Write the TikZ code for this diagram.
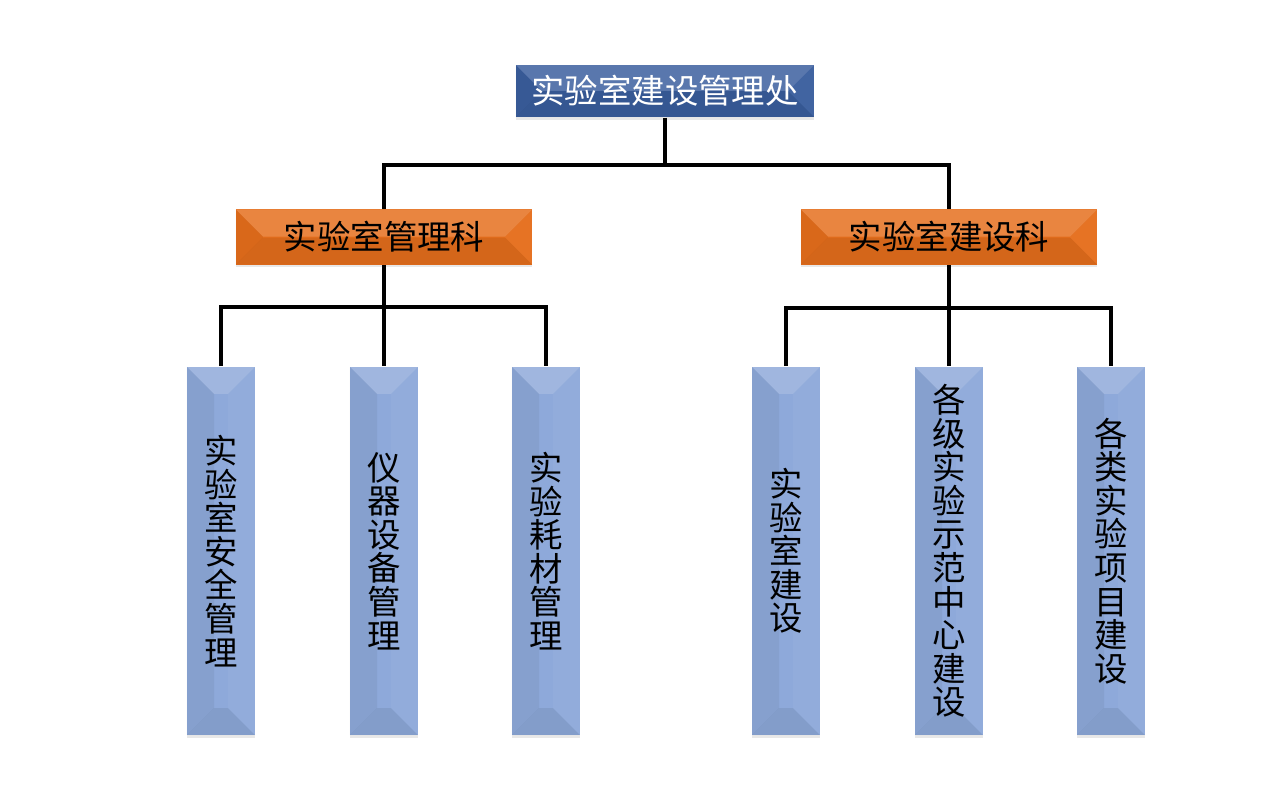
\documentclass[tikz,border=0pt]{standalone}
\usepackage{fontspec}
\newfontfamily\cjk{Noto Sans CJK SC}
\usetikzlibrary{shadows}

\definecolor{headblue}{HTML}{3A5E9E}
\definecolor{deptorange}{HTML}{E56E1C}
\definecolor{barblue}{HTML}{8EA9DA}

\tikzset{
  bevel/.style={path picture={
    % top face (light)
    \fill[white,opacity=.16] (path picture bounding box.north west) -- (path picture bounding box.north east)
      -- ([shift={(-#1,-#1)}]path picture bounding box.north east) -- ([shift={(#1,-#1)}]path picture bounding box.north west) -- cycle;
    % bottom face (dark)
    \fill[black,opacity=.07] (path picture bounding box.south west) -- (path picture bounding box.south east)
      -- ([shift={(-#1,#1)}]path picture bounding box.south east) -- ([shift={(#1,#1)}]path picture bounding box.south west) -- cycle;
    % side faces
    \fill[black,opacity=.05] (path picture bounding box.north west) -- (path picture bounding box.south west)
      -- ([shift={(#1,#1)}]path picture bounding box.south west) -- ([shift={(#1,-#1)}]path picture bounding box.north west) -- cycle;
    \fill[white,opacity=.04] (path picture bounding box.north east) -- (path picture bounding box.south east)
      -- ([shift={(-#1,#1)}]path picture bounding box.south east) -- ([shift={(-#1,-#1)}]path picture bounding box.north east) -- cycle;
  }},
  softshadow/.style={drop shadow={shadow xshift=0pt, shadow yshift=-0.8pt, opacity=.18}},
  headbox/.style={fill=headblue, text=white, minimum width=2.98cm, minimum height=0.52cm,
    inner sep=0pt, bevel=0.26cm, softshadow},
  deptbox/.style={fill=deptorange, text=black, minimum width=2.96cm, minimum height=0.55cm,
    inner sep=0pt, bevel=0.27cm, softshadow},
  barbox/.style={fill=barblue, text=black, minimum width=0.68cm, minimum height=3.68cm,
    inner sep=0pt, align=center, bevel=0.27cm, softshadow},
  conn/.style={line width=0.9pt, black},
}

\begin{document}
\begin{tikzpicture}[x=0.01cm, y=-0.01cm, font=\fontsize{9.5pt}{9.55pt}\cjk]

    % --- Canvas ---
    \useasboundingbox (0,0) rectangle (1274,788);

    % --- Coordinates ---
    % bus lines of the tree
    \coordinate (topbus)   at (0,165);
    \coordinate (leftbus)  at (0,307);
    \coordinate (rightbus) at (0,308);

    % --- Boxes ---
    \node[headbox] (office) at (665,91) {实验室建设管理处};

    \node[deptbox] (mgmt)  at (384,237) {实验室管理科};
    \node[deptbox] (build) at (949,237) {实验室建设科};

    % bars under the management section
    \node[barbox] (safety) at (221,551) {实\\验\\室\\安\\全\\管\\理};
    \node[barbox] (equip)  at (384,551) {仪\\器\\设\\备\\管\\理};
    \node[barbox] (consum) at (546,551) {实\\验\\耗\\材\\管\\理};

    % bars under the construction section
    \node[barbox] (labcon)  at (786,551) {实\\验\\室\\建\\设};
    \node[barbox] (demo)    at (949,551) {各\\级\\实\\验\\示\\范\\中\\心\\建\\设};
    \node[barbox] (project) at (1111,551) {各\\类\\实\\验\\项\\目\\建\\设};

    % --- Lines ---
    \draw[conn] (office.south) -- (office.south |- topbus) -| (mgmt.north);
    \draw[conn] (office.south |- topbus) -| (build.north);

    \draw[conn] (mgmt.south) -- (equip.north);
    \draw[conn] (safety.north) |- (consum.north |- leftbus) -- (consum.north);

    \draw[conn] (build.south) -- (demo.north);
    \draw[conn] (labcon.north) |- (project.north |- rightbus) -- (project.north);

\end{tikzpicture}
\end{document}
